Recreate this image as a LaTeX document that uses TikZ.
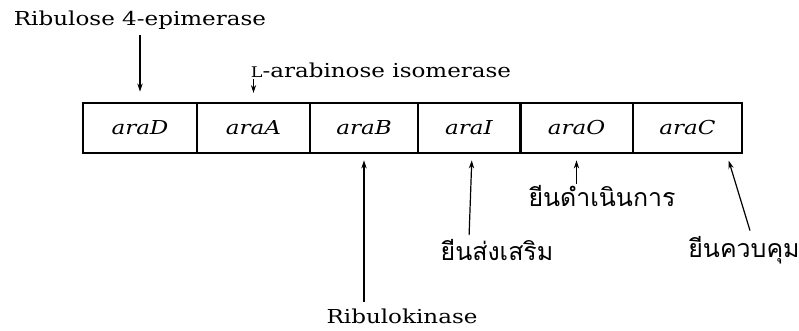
\documentclass[tikz,border=0pt]{standalone}
\usepackage{fontspec}
\setmainfont[FakeStretch=1.2]{DejaVu Serif}
\newfontfamily\thaifont[Script=Thai]{Loma}
\usetikzlibrary{arrows.meta,calc}
\tikzset{
  gene/.style={draw, line width=1.1pt, minimum height=37.5pt, inner sep=0pt,
               font=\fontsize{14.4}{17}\selectfont\itshape},
  lbl/.style={inner sep=1pt, font=\fontsize{14.4}{17}\selectfont},
  thlbl/.style={inner sep=1pt, font=\fontsize{18.7}{22}\selectfont\thaifont},
  arr/.style={-{Stealth[length=6pt,width=4pt]}, line width=0.9pt},
}
\begin{document}
\begin{tikzpicture}[x=0.75pt,y=-0.75pt]
  \useasboundingbox (0,0) rectangle (799,331);
  % the ara operon, one box per gene
  \node[gene, minimum width=85.5pt]  (D) at (140,128)   {araD};
  \node[gene, minimum width=84.75pt] (A) at (253.5,128) {araA};
  \node[gene, minimum width=81pt]    (B) at (364,128)   {araB};
  \node[gene, minimum width=76.5pt]  (I) at (469,128)   {araI};
  \node[gene, minimum width=84.75pt] (O) at (576.5,128) {araO};
  \node[gene, minimum width=81.75pt] (C) at (687.5,128) {araC};
  % heavier border between araI and araO
  \draw[line width=2pt] (I.north east) -- (I.south east);

  % enzyme and site labels
  \node[lbl] (epi) at (140,20) {Ribulose 4-epimerase};
  \node[lbl] (iso) at (381,70) {{\fontsize{11}{12}\selectfont L}-arabinose isomerase};
  \node[lbl] (kin) at (402,316) {Ribulokinase};
  \node[thlbl] (prom) at (497,250) {ยีนส่งเสริม};
  \node[thlbl] (oper) at (602,196) {ยีนดำเนินการ};
  \node[thlbl] (reg)  at (744,250) {ยีนควบคุม};

  % pointers
  \draw[arr, shorten <=3pt, shorten >=8pt] (epi.south -| D.north) -- (D.north);
  \draw[arr, shorten >=7pt] (iso.south -| A.north) -- (A.north);
  \draw[arr, shorten <=4pt, shorten >=5pt] (kin.north -| B.south) -- (B.south);
  \draw[arr, shorten <=2pt, shorten >=5pt] (prom.north -| I.south) -- ([xshift=2.25pt]I.south);
  \draw[arr, shorten >=5pt] (oper.north -| O.south) -- (O.south);
  \draw[arr] ($(reg.north)+(6,-4)$) -- ($(C.south east)+(-14,7)$);
\end{tikzpicture}
\end{document}
